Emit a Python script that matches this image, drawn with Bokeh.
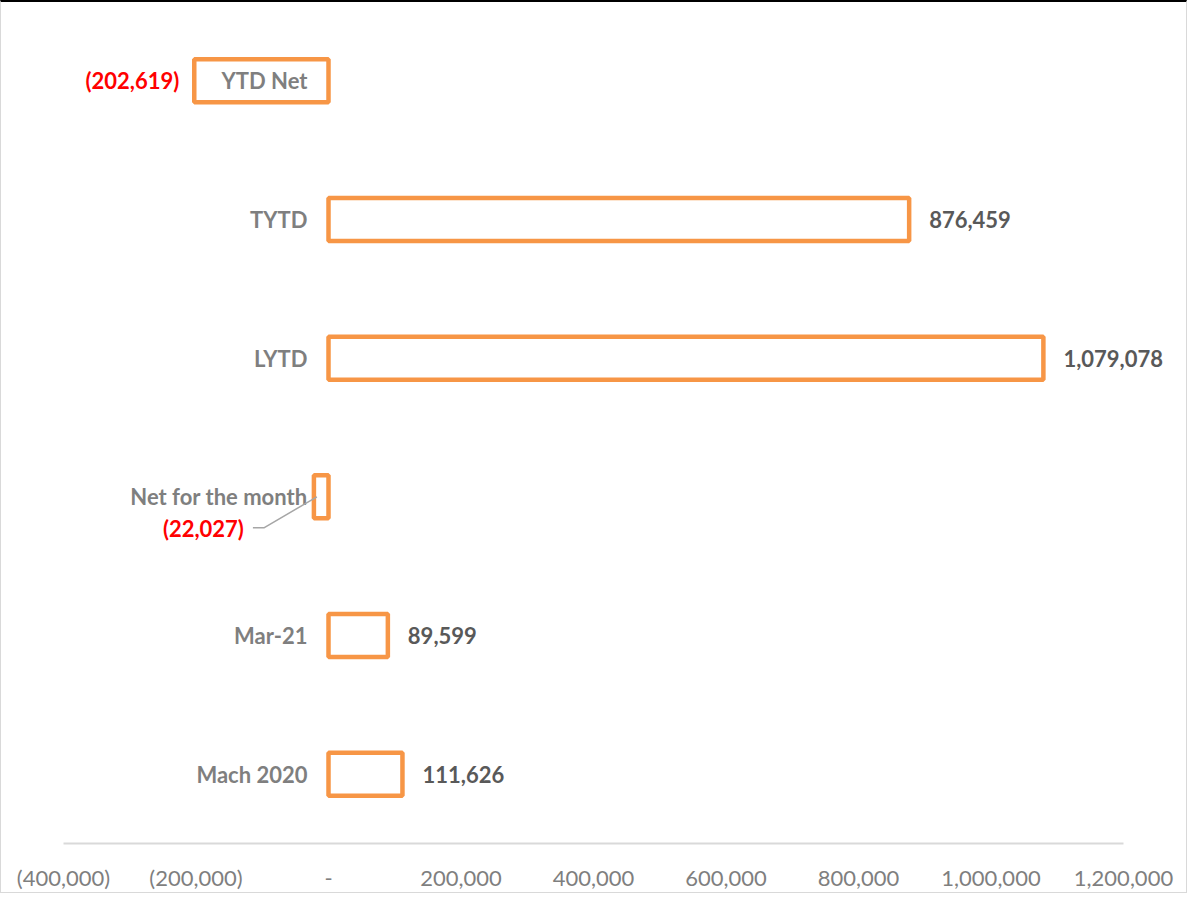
from bokeh.plotting import figure
from bokeh.models import Range1d, FixedTicker, CustomJSTickFormatter, ColumnDataSource
from bokeh.core.properties import value
from bokeh.embed import file_html
from bokeh.resources import INLINE

# ---- data ----
categories = ["Mach 2020", "Mar-21", "Net for the month", "LYTD", "TYTD", "YTD Net"]
values = [111626, 89599, -22027, 1079078, 876459, -202619]
tick_values = [-400000, -200000, 0, 200000, 400000, 600000, 800000, 1000000, 1200000]


def fmt(v):
    return f"({abs(v):,})" if v < 0 else f"{v:,}"


ypos = list(range(len(categories)))

# layout (pixels)
W, H = 1187, 893
LEFT, TOP, BOTTOM = 62, 9, 52
AXIS_MIN, AXIS_MAX = tick_values[0], tick_values[-1]
AXIS_PX = 1060                      # pixel length of the axis span
FRAME_RIGHT = 1179
RIGHT = W - FRAME_RIGHT
PX_X = AXIS_PX / (AXIS_MAX - AXIS_MIN)
X0 = AXIS_MIN
X1 = AXIS_MIN + (FRAME_RIGHT - LEFT) / PX_X
Y0, Y1 = -0.5, len(categories) - 0.5
FRAME_H = H - TOP - BOTTOM
PX_Y = FRAME_H / (Y1 - Y0)

FONT = value("Lato")
FS = "22px"
ORANGE = "#F79646"
GRAY = "#7f7f7f"
DARK = "#595959"
RED = "#FF0000"

p = figure(width=W, height=H, output_backend="svg", toolbar_location=None,
           x_range=Range1d(X0, X1), y_range=Range1d(Y0, Y1),
           y_axis_location=None, min_border_left=LEFT, min_border_right=RIGHT,
           min_border_top=TOP, min_border_bottom=BOTTOM)
p.outline_line_color = None
p.xgrid.visible = False
p.ygrid.visible = False
p.background_fill_color = "white"
p.border_fill_color = "white"
p.styles = {"border": "1px solid #d9d9d9", "border-top": "2px solid #000000"}

xa = p.xaxis[0]
xa.ticker = FixedTicker(ticks=tick_values)
xa.bounds = (AXIS_MIN, AXIS_MAX)
xa.formatter = CustomJSTickFormatter(code="""
const a = Math.abs(tick).toLocaleString('en-US');
if (tick < 0) return '(' + a + ')';
if (tick == 0) return '-';
return a;
""")
xa.axis_line_color = "#d9d9d9"
xa.axis_line_width = 2
xa.major_tick_line_color = None
xa.minor_tick_line_color = None
xa.major_label_standoff = 14
xa.major_label_text_font = "Lato"
xa.major_label_text_font_size = FS
xa.major_label_text_color = GRAY

src = ColumnDataSource(dict(y=ypos, v=values, cat=categories,
                            lab=[fmt(v) for v in values]))

# bars
p.hbar(y="y", left=0, right="v", height=0.31, source=src,
       fill_color="white", line_color=ORANGE, line_width=4.5)

# category labels next to the axis
p.text(x=0, y="y", text="cat", source=src, x_offset=-21,
       text_align="right", text_baseline="middle",
       text_font=FONT, text_font_style="bold", text_font_size=FS,
       text_color=GRAY)

# positive value labels
pos = [i for i, v in enumerate(values) if v >= 0]
p.text(x=[values[i] for i in pos], y=[ypos[i] for i in pos],
       text=[fmt(values[i]) for i in pos], x_offset=20,
       text_align="left", text_baseline="middle",
       text_font=FONT, text_font_style="bold", text_font_size=FS,
       text_color=DARK)

# YTD Net negative label
i_ytd = categories.index("YTD Net")
p.text(x=[values[i_ytd]], y=[ypos[i_ytd]], text=[fmt(values[i_ytd])],
       x_offset=-15, text_align="right", text_baseline="middle",
       text_font=FONT, text_font_style="bold", text_font_size=FS,
       text_color=RED)

# Net for the month label with leader line
i_net = categories.index("Net for the month")
vx, vy = values[i_net], ypos[i_net]
p.text(x=[vx], y=[vy], text=[fmt(vx)], x_offset=-70, y_offset=32,
       text_align="right", text_baseline="middle",
       text_font=FONT, text_font_style="bold", text_font_size=FS,
       text_color=RED)
leader_px = [(-61, 31), (-50, 31), (3, 0)]
p.line(x=[vx + dx / PX_X for dx, dy in leader_px],
       y=[vy - dy / PX_Y for dx, dy in leader_px],
       line_color="#a6a6a6", line_width=1.5)

open("out.html", "w").write(file_html(p, INLINE))
